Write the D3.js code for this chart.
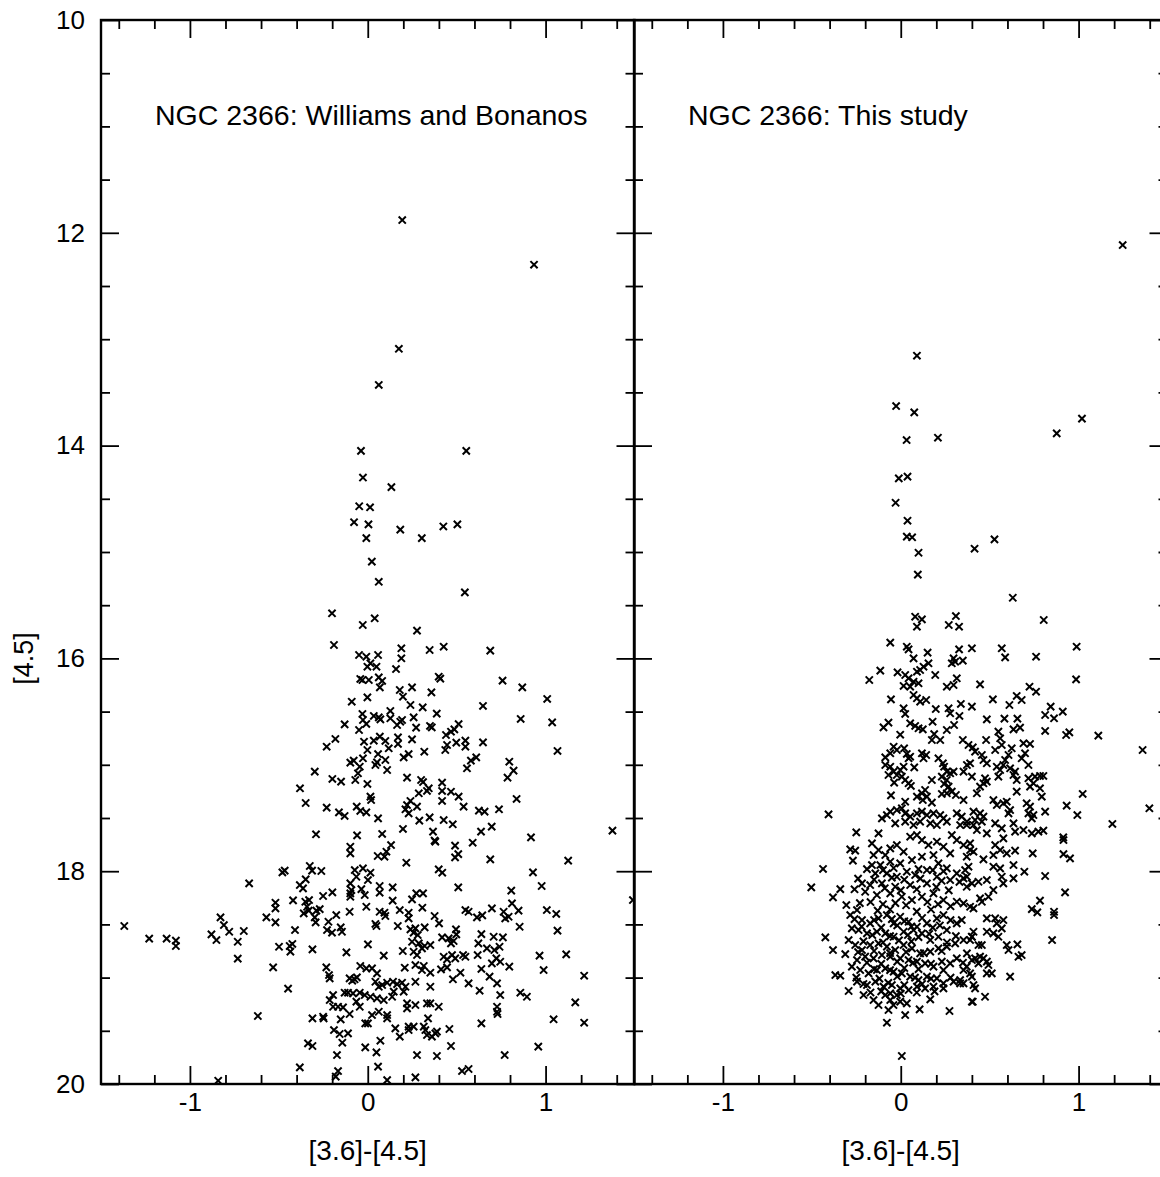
<!DOCTYPE html>
<html>
<head>
<meta charset="utf-8">
<title>NGC 2366 CMD</title>
<script src="https://cdn.jsdelivr.net/npm/d3@7"></script>
<style>
  body { margin: 0; background: #fff; }
  text { font-family: "Liberation Sans", Arial, sans-serif; fill: #000; }
</style>
</head>
<body>
<script>
const panelTitles = ["NGC 2366: Williams and Bonanos", "NGC 2366: This study"];
const xTickLabels = [-1, 0, 1];
const yTickLabels = [10, 12, 14, 16, 18, 20];
const xTitle = "[3.6]-[4.5]";
const yTitle = "[4.5]";

// [colour [3.6]-[4.5], magnitude [4.5]]
const wbStars = [
  [0.194,11.88],[0.935,12.30],[0.175,13.09],[0.062,13.43],[-0.038,14.05],[0.554,14.05],[-0.027,14.30],[0.133,14.39],[-0.048,14.57],[0.013,14.58],
  [-0.077,14.72],[0.004,14.74],[0.183,14.79],[0.304,14.87],[0.425,14.76],[0.504,14.74],[-0.008,14.87],[0.023,15.09],[0.062,15.28],[0.546,15.38],
  [-0.201,15.576],[-0.028,15.686],[-0.190,15.874],[-0.049,15.968],[-0.008,15.984],[-0.002,16.078],[-0.042,16.193],[-0.030,16.203],[-0.002,16.366],[-0.090,16.407],
  [-0.030,16.522],[-0.027,16.579],[-0.008,16.616],[-0.130,16.620],[-0.049,16.673],[-0.182,16.757],[-0.231,16.830],[-0.021,16.783],[-0.002,16.861],[-0.027,16.939],
  [-0.098,16.980],[-0.079,16.961],[-0.045,17.018],[-0.055,17.080],[-0.298,17.064],[-0.070,17.143],[-0.199,17.133],[-0.150,17.158],[-0.002,17.180],[-0.381,17.221],
  [-0.349,17.359],[-0.231,17.403],[-0.162,17.447],[-0.130,17.481],[-0.062,17.393],[-0.042,17.434],[-0.008,17.447],[-0.291,17.653],[-0.060,17.663],
  [0.039,15.623],[0.277,15.739],[0.058,15.968],[0.015,16.046],[0.049,16.078],[0.189,15.905],[0.189,15.999],[0.348,15.921],[0.427,15.890],[0.689,15.927],
  [0.159,16.100],[0.006,16.203],[0.062,16.178],[0.081,16.212],[0.068,16.272],[0.399,16.172],[0.408,16.190],[0.249,16.272],[0.180,16.297],[0.198,16.360],
  [0.358,16.319],[0.758,16.209],[0.869,16.272],[1.009,16.381],[0.240,16.438],[0.309,16.460],[0.648,16.447],[0.127,16.494],[0.388,16.519],[0.034,16.541],
  [0.062,16.554],[0.071,16.573],[0.127,16.563],[0.165,16.626],[0.183,16.595],[0.193,16.579],[0.258,16.554],[0.272,16.651],[0.350,16.635],[0.360,16.648],
  [0.860,16.569],[1.037,16.601],[0.440,16.720],[0.468,16.689],[0.487,16.667],[0.511,16.617],[0.446,16.814],[0.436,16.861],[0.498,16.792],[0.549,16.773],
  [0.549,16.830],[0.648,16.789],[1.067,16.870],[0.068,16.735],[0.034,16.773],[0.099,16.776],[0.170,16.742],[0.170,16.804],[0.249,16.761],[0.118,16.845],
  [0.058,16.899],[0.099,16.955],[0.109,17.049],[0.043,17.002],[0.052,16.977],[0.202,16.930],[0.230,16.899],[0.318,16.877],[0.558,17.033],[0.580,16.961],
  [0.610,16.930],[0.796,16.971],[0.820,17.055],[0.786,17.121],[0.837,17.321],[0.221,17.121],[0.300,17.143],[0.311,17.162],[0.287,17.268],[0.333,17.246],
  [0.343,17.221],[0.418,17.168],[0.418,17.246],[0.418,17.340],[0.468,17.253],[0.511,17.299],[0.539,17.393],[0.015,17.299],[0.019,17.331],[0.240,17.340],
  [0.221,17.378],[0.212,17.418],[0.277,17.393],[0.230,17.456],[0.058,17.503],[0.290,17.525],[0.348,17.494],[0.427,17.519],[0.478,17.559],[0.625,17.431],
  [0.657,17.440],[0.738,17.418],[0.198,17.603],[0.081,17.650],[0.367,17.628],[0.376,17.713],[0.637,17.628],[0.697,17.581],[0.918,17.682],[1.376,17.619],
  [-0.098,17.770],[-0.098,17.832],[-0.667,18.114],[-1.369,18.515],[-1.229,18.634],[-1.131,18.634],[-1.079,18.653],[-1.079,18.703],[-0.879,18.594],[-0.851,18.647],
  [-0.828,18.434],[-0.809,18.506],[-0.779,18.569],[-0.731,18.663],[-0.697,18.562],[-0.731,18.822],[-0.618,19.361],[-0.570,18.434],[-0.519,18.296],[-0.519,18.349],
  [-0.519,18.481],[-0.532,18.904],[-0.480,18.011],[-0.467,17.995],[-0.499,18.710],[-0.439,18.703],[-0.435,18.756],[-0.424,18.684],[-0.409,18.553],[-0.420,18.274],
  [-0.448,19.104],[-0.382,18.130],[-0.364,18.161],[-0.349,18.077],[-0.326,17.951],[-0.313,17.995],[-0.261,17.998],[-0.351,18.287],[-0.330,18.271],[-0.341,18.334],
  [-0.360,18.396],[-0.332,18.371],[-0.289,18.371],[-0.270,18.356],[-0.298,18.434],[-0.293,18.481],[-0.311,18.735],[-0.251,18.233],[-0.199,18.199],[-0.221,18.475],
  [-0.229,18.553],[-0.201,18.578],[-0.177,18.412],[-0.152,18.528],[-0.145,18.569],[-0.120,18.763],[-0.102,18.381],[-0.098,18.114],[-0.098,18.208],[-0.098,18.240],
  [-0.092,18.177],[-0.073,17.989],[-0.064,18.052],[-0.027,17.973],[-0.036,18.168],[-0.017,18.224],[-0.008,18.334],[0.001,18.083],[0.001,18.688],[-0.233,18.904],
  [-0.218,18.976],[-0.214,19.007],[-0.102,19.007],[-0.087,19.029],[-0.074,19.016],[-0.061,18.998],[-0.042,18.891],[-0.008,18.913],[-0.130,19.142],[-0.111,19.142],
  [-0.083,19.148],[-0.045,19.142],[-0.017,19.164],[-0.195,19.164],[-0.214,19.211],[-0.195,19.274],[-0.167,19.274],[-0.139,19.280],[-0.064,19.226],[-0.045,19.274],
  [-0.102,19.342],[-0.311,19.383],[-0.251,19.368],[-0.248,19.383],[-0.152,19.393],[-0.014,19.430],[0.001,19.430],[-0.190,19.493],[-0.158,19.530],[-0.111,19.524],
  [-0.143,19.612],[-0.336,19.618],[-0.311,19.643],[-0.173,19.728],[-0.014,19.656],[-0.382,19.844],[-0.167,19.878],[-0.180,19.931],[-0.841,19.969],
  [0.131,17.754],[0.105,17.817],[0.094,17.864],[0.056,17.857],[0.380,17.723],[0.491,17.760],[0.509,17.839],[0.491,17.870],[0.590,17.732],[0.217,17.920],
  [0.689,17.889],[1.127,17.901],[0.399,17.983],[0.419,18.014],[0.015,18.014],[0.929,18.011],[0.978,18.139],[0.067,18.139],[0.067,18.202],[0.140,18.152],
  [0.509,18.152],[0.807,18.183],[0.140,18.277],[0.249,18.265],[0.273,18.208],[0.311,18.208],[0.307,18.343],[0.180,18.365],[0.230,18.390],[0.230,18.443],
  [0.067,18.381],[0.094,18.390],[0.099,18.421],[0.043,18.496],[0.049,18.515],[0.169,18.515],[0.090,18.794],[0.240,18.547],[0.258,18.578],[0.281,18.600],
  [0.268,18.537],[0.320,18.528],[0.249,18.663],[0.287,18.678],[0.305,18.725],[0.320,18.703],[0.352,18.694],[0.197,18.750],[0.258,18.757],[0.277,18.788],
  [0.376,18.421],[0.401,18.490],[0.418,18.622],[0.455,18.631],[0.468,18.678],[0.483,18.656],[0.496,18.547],[0.498,18.594],[0.549,18.365],[0.567,18.381],
  [0.614,18.434],[0.644,18.415],[0.698,18.349],[0.764,18.381],[0.773,18.443],[0.792,18.428],[0.811,18.302],[0.848,18.371],[0.854,18.522],[1.007,18.365],
  [1.060,18.402],[1.067,18.559],[0.639,18.591],[0.622,18.678],[0.618,18.788],[0.708,18.616],[0.760,18.622],[0.741,18.710],[0.712,18.741],[0.670,18.725],
  [0.698,18.866],[0.723,18.819],[0.745,18.851],[0.796,18.897],[0.966,18.794],[1.116,18.782],[0.989,18.929],[1.217,18.982],[0.427,18.804],[0.446,18.829],
  [0.474,18.788],[0.492,18.819],[0.536,18.788],[0.549,18.804],[0.412,18.923],[0.446,18.904],[0.479,19.016],[0.521,18.954],[0.208,18.907],[0.268,18.882],
  [0.315,18.891],[0.305,18.929],[0.352,18.954],[0.268,19.039],[0.352,19.086],[0.567,19.054],[0.639,18.919],[0.685,18.991],[0.727,19.054],[0.629,19.123],
  [0.745,19.164],[0.858,19.142],[0.895,19.180],[1.167,19.233],[0.024,18.913],[0.052,18.960],[0.043,19.039],[0.062,19.086],[0.081,19.070],[0.109,19.048],
  [0.142,19.039],[0.165,19.061],[0.193,19.048],[0.212,19.086],[0.202,19.132],[0.015,19.180],[0.052,19.195],[0.090,19.211],[0.137,19.180],[0.146,19.132],
  [0.221,19.242],[0.221,19.289],[0.268,19.258],[0.333,19.242],[0.352,19.242],[0.399,19.274],[0.727,19.274],[0.727,19.321],[0.730,19.342],[0.062,19.321],
  [0.024,19.352],[0.109,19.352],[0.109,19.383],[0.339,19.383],[0.155,19.477],[0.180,19.555],[0.230,19.461],[0.230,19.493],[0.258,19.461],[0.315,19.461],
  [0.324,19.493],[0.333,19.540],[0.361,19.555],[0.380,19.524],[0.389,19.508],[0.459,19.483],[0.639,19.430],[1.045,19.392],[1.217,19.424],[0.071,19.593],
  [0.049,19.703],[0.277,19.728],[0.389,19.737],[0.468,19.643],[0.770,19.728],[0.959,19.649],[0.058,19.837],[0.530,19.878],[0.567,19.859],[0.109,19.963],
  [0.268,19.938],[1.491,18.271]
];

const tsStars = [
  [1.248,12.115],[0.091,13.155],[-0.026,13.628],[0.076,13.688],[0.033,13.948],[0.209,13.926],[0.877,13.885],[1.019,13.747],[-0.011,14.308],[0.038,14.292],
  [-0.029,14.537],[0.038,14.706],[0.034,14.856],[0.064,14.862],[0.100,15.007],[0.415,14.969],[0.527,14.881],[0.096,15.213],[0.630,15.430],[0.081,15.608],
  [0.119,15.633],[0.091,15.702],[0.310,15.602],[0.270,15.686],[0.328,15.702],[0.804,15.639],
  [-0.059,15.852],[0.034,15.890],[0.044,15.915],[0.072,16.000],[0.151,15.946],[0.328,15.915],[0.297,16.000],[0.306,16.031],[0.287,16.046],[0.349,16.021],
  [0.400,15.905],[0.156,16.046],[0.128,16.078],[0.109,16.109],[0.091,16.125],[0.194,16.156],[-0.115,16.115],[-0.177,16.203],[-0.018,16.131],[0.025,16.156],
  [0.044,16.187],[0.072,16.219],[0.100,16.234],[0.016,16.259],[0.053,16.266],[0.259,16.266],[0.297,16.250],[0.315,16.187],[-0.055,16.385],[0.072,16.344],
  [0.091,16.375],[0.109,16.407],[0.143,16.391],[0.016,16.469],[0.025,16.522],[0.197,16.476],[0.269,16.469],[0.278,16.516],[0.330,16.541],[0.338,16.428],
  [0.400,16.453],[-0.069,16.604],[-0.097,16.648],[-0.003,16.717],[0.053,16.610],[0.081,16.635],[0.100,16.657],[0.124,16.667],[0.179,16.595],[0.259,16.673],
  [0.300,16.626],[0.188,16.711],[0.175,16.767],[0.222,16.767],[0.349,16.767],[0.381,16.814],[0.405,16.836],[-0.040,16.830],[-0.022,16.861],[-0.059,16.892],
  [-0.087,16.930],[0.019,16.845],[0.034,16.898],[0.053,16.924],[0.044,16.939],[0.119,16.892],[0.143,16.908],[0.128,16.939],[-0.087,17.002],[-0.059,17.018],
  [-0.040,17.064],[-0.069,17.096],[-0.003,17.049],[0.016,17.018],[0.076,17.024],[-0.022,17.096],[0.006,17.111],[0.025,17.143],[0.044,17.174],[0.057,17.199],
  [-0.037,17.168],[0.175,17.143],[0.212,16.939],[0.237,16.986],[0.244,17.018],[0.259,17.064],[0.278,17.080],[0.297,17.064],[0.231,17.111],[0.259,17.143],
  [0.244,17.180],[0.269,17.205],[0.287,17.252],[0.259,17.268],[0.231,17.274],[0.353,17.064],[0.372,17.002],[0.390,16.986],[0.400,17.111],[0.310,17.284],
  [0.353,17.331],[-0.055,17.287],[0.025,17.347],[0.091,17.299],[0.119,17.268],[0.137,17.237],[0.147,17.299],[0.175,17.356],[0.124,17.331],[-0.406,17.466],
  [-0.059,17.440],[-0.078,17.472],[-0.106,17.503],[-0.022,17.425],[0.006,17.409],[0.025,17.456],[0.053,17.487],[0.091,17.456],[0.119,17.440],[0.147,17.472],
  [0.184,17.456],[0.222,17.472],[0.240,17.503],[-0.031,17.550],[0.025,17.534],[0.072,17.566],[0.109,17.534],[0.166,17.550],[0.203,17.566],[0.259,17.534],
  [0.315,17.456],[0.343,17.487],[0.372,17.534],[0.334,17.566],[-0.250,17.635],[-0.125,17.644],
  [0.568,15.905],[0.587,15.990],[0.761,15.984],[0.989,15.890],[0.986,16.197],[0.446,16.244],[0.724,16.266],[0.761,16.313],[0.652,16.353],[0.680,16.391],
  [0.611,16.438],[0.518,16.385],[0.484,16.573],[0.583,16.566],[0.656,16.566],[0.634,16.667],[0.671,16.651],[0.812,16.532],[0.843,16.453],[0.862,16.563],
  [0.911,16.500],[0.812,16.682],[0.930,16.720],[0.948,16.695],[1.111,16.726],[1.360,16.861],[0.418,16.876],[0.480,16.767],[0.531,16.861],[0.549,16.688],
  [0.559,16.751],[0.568,16.814],[0.456,16.908],[0.465,16.955],[0.484,16.986],[0.624,16.845],[0.606,16.908],[0.587,16.955],[0.690,16.798],[0.727,16.804],
  [0.699,16.892],[0.680,16.939],[0.718,17.002],[0.540,17.018],[0.559,17.049],[0.577,17.002],[0.549,17.111],[0.615,17.033],[0.643,17.064],[0.634,17.096],
  [0.474,17.127],[0.465,17.174],[0.446,17.205],[0.484,17.158],[0.428,17.268],[0.652,17.143],[0.652,17.252],[0.718,17.127],[0.755,17.111],[0.783,17.105],
  [0.802,17.105],[0.727,17.205],[0.746,17.174],[0.783,17.221],[0.793,17.299],[1.023,17.274],[0.933,17.384],[0.993,17.472],[1.190,17.556],[1.398,17.409],
  [0.521,17.331],[0.540,17.378],[0.577,17.362],[0.596,17.347],[0.615,17.425],[0.606,17.456],[0.708,17.362],[0.727,17.393],[0.718,17.456],[0.746,17.472],
  [0.737,17.503],[0.812,17.440],[0.409,17.440],[0.418,17.519],[0.446,17.456],[0.465,17.487],[0.456,17.534],[0.371,17.566],[0.409,17.566],[0.428,17.613],
  [0.484,17.644],[0.531,17.550],[0.568,17.597],[0.634,17.550],[0.643,17.628],[0.690,17.613],[0.737,17.644],[0.774,17.628],[0.802,17.619],[0.914,17.682],
  [-0.284,17.795],[-0.256,17.807],[-0.269,17.901],[-0.437,17.979],[-0.503,18.152],[-0.340,18.168],[-0.381,18.246],[-0.306,18.318],[-0.424,18.622],[-0.381,18.741],
  [-0.312,18.779],[-0.368,18.976],[-0.340,18.982],[-0.293,19.126],[-0.209,19.164],[-0.153,19.211],[-0.125,19.258],[-0.078,19.424],[0.025,19.352],[0.106,19.299],
  [0.166,19.205],[0.274,19.314],[0.006,19.737],[0.400,19.226],[-0.069,19.305],[-0.041,19.258],[-0.059,19.211],[-0.003,19.226],[0.034,19.242],[-0.087,19.164],
  [-0.059,19.148],[-0.022,19.164],
  [-0.162,17.738],[-0.125,17.801],[-0.153,17.848],[-0.087,17.848],[-0.059,17.785],[-0.022,17.754],[0.016,17.817],[0.053,17.676],[0.091,17.660],[0.119,17.707],
  [0.156,17.754],[0.203,17.723],[0.240,17.770],[0.287,17.660],[0.315,17.707],[0.353,17.754],[0.390,17.801],[0.278,17.832],[0.184,17.848],[0.119,17.864],
  [0.063,17.895],[-0.003,17.926],[-0.059,17.911],[-0.115,17.942],[-0.162,17.942],[-0.143,18.020],[-0.078,18.020],[-0.022,18.052],[0.034,18.005],[0.081,18.036],
  [0.147,17.989],[0.212,17.926],[0.259,17.973],[0.315,18.020],[0.372,18.052],[0.278,18.083],[0.203,18.052],[0.147,18.114],[0.053,18.130],[-0.031,18.146],
  [-0.106,18.114],[-0.172,18.130],[-0.218,18.114],[-0.200,18.193],[-0.134,18.224],[-0.059,18.208],[0.006,18.240],[0.063,18.271],[0.119,18.240],[0.184,18.208],
  [0.240,18.271],[0.315,18.287],[0.390,18.334],[0.343,18.459],[0.315,18.490],
  [-0.284,18.412],[-0.246,18.365],[-0.218,18.459],[-0.172,18.490],[-0.125,18.443],[-0.078,18.412],[-0.040,18.490],[-0.003,18.428],[0.044,18.475],[0.091,18.522],
  [0.147,18.490],[0.203,18.443],[0.240,18.412],[0.259,18.553],[0.212,18.616],[0.166,18.647],[0.119,18.584],[0.072,18.553],[0.016,18.569],[-0.040,18.616],
  [-0.087,18.584],[-0.134,18.569],[-0.190,18.584],[-0.237,18.553],[-0.275,18.537],[-0.293,18.647],[-0.256,18.694],[-0.218,18.741],[-0.172,18.694],[-0.125,18.678],
  [-0.078,18.709],[-0.031,18.741],[0.016,18.694],[0.063,18.725],[0.109,18.772],[0.166,18.756],[0.212,18.725],[0.259,18.709],[0.306,18.678],[0.353,18.647],
  [0.400,18.616],[0.372,18.772],[0.315,18.819],[0.278,18.866],[0.231,18.850],[0.184,18.897],[0.137,18.866],[0.091,18.850],[0.044,18.835],[-0.003,18.819],
  [-0.059,18.803],[-0.106,18.788],[-0.153,18.819],[-0.200,18.803],[-0.246,18.835],[-0.275,18.897],[-0.228,18.929],[-0.181,18.960],[-0.134,18.929],[-0.087,18.913],
  [-0.040,18.944],[0.006,18.960],[0.053,18.991],[0.100,19.023],[0.147,18.991],[0.203,19.007],[0.240,19.054],[0.297,19.038],[0.334,19.023],[0.390,18.960],
  [0.400,18.835],[-0.246,19.038],[-0.190,19.070],[-0.143,19.038],[-0.097,19.085],[-0.050,19.070],[-0.003,19.101],[0.044,19.117],[0.091,19.085],[0.137,19.101],
  [0.184,19.085],[0.240,19.101],[0.334,19.054],[0.353,18.929],
  [0.915,17.707],[0.915,17.839],[0.952,17.879],[0.742,17.832],[0.812,18.045],[0.695,18.005],[0.924,18.199],[0.783,18.277],[0.737,18.356],[0.768,18.387],
  [0.862,18.381],[0.862,18.412],[0.851,18.647],[0.615,18.991],[0.656,18.688],[0.680,18.788],[0.662,18.804],[0.596,18.694],[0.606,18.741],[0.474,19.180],
  [0.405,19.227],[0.577,17.691],[0.531,17.754],[0.559,17.801],[0.596,17.832],[0.643,17.807],[0.521,17.848],[0.465,17.889],[0.409,17.817],[0.371,17.864],
  [0.390,17.738],[0.381,17.958],[0.362,17.989],[0.353,18.067],[0.371,18.146],[0.400,18.114],[0.437,18.099],[0.484,18.083],[0.521,17.958],[0.559,17.973],
  [0.568,18.052],[0.634,17.942],[0.634,18.067],[0.577,18.114],[0.521,18.177],[0.493,18.240],[0.446,18.255],[0.456,18.287],[0.409,18.349],[0.353,18.302],
  [0.484,18.443],[0.531,18.443],[0.540,18.490],[0.577,18.459],[0.568,18.537],[0.484,18.569],[0.521,18.584],[0.549,18.616],[0.409,18.569],[0.400,18.616],
  [0.390,18.647],[0.437,18.694],[0.456,18.694],[0.418,18.819],[0.446,18.803],[0.465,18.819],[0.437,18.866],[0.484,18.850],[0.493,18.882],[0.484,18.960],
  [0.512,18.960],[0.371,18.897],[0.400,18.991],[0.409,19.070],[0.418,19.101],[0.353,19.054],
  // dense core, overlapping crosses
  [-0.19,17.98],[-0.10,17.99],[-0.04,17.97],[0.10,17.98],[0.18,17.99],[0.24,18.00],
  [-0.24,18.07],[-0.15,18.08],[-0.05,18.06],[0.02,18.08],[0.11,18.07],[0.23,18.09],[0.33,18.10],
  [-0.26,18.17],[-0.09,18.16],[0.00,18.18],[0.09,18.17],[0.20,18.15],[0.27,18.18],
  [-0.23,18.30],[-0.17,18.29],[-0.10,18.31],[-0.03,18.30],[0.03,18.32],[0.15,18.29],[0.21,18.31],[0.28,18.33],
  [-0.13,18.37],[-0.06,18.36],[0.09,18.38],[0.17,18.36],
  [-0.26,18.45],[-0.15,18.46],[-0.05,18.45],[0.02,18.47],[0.12,18.44],[0.28,18.46],
  [-0.22,18.52],[-0.11,18.53],[-0.02,18.51],[0.06,18.52],[0.18,18.53],[0.22,18.51],
  [-0.16,18.60],[-0.06,18.61],[0.04,18.60],[0.10,18.62],[0.16,18.59],[0.31,18.61],
  [-0.21,18.66],[-0.10,18.67],[-0.01,18.65],[0.06,18.66],[0.26,18.67],
  [-0.24,18.76],[-0.15,18.75],[-0.06,18.77],[0.03,18.76],[0.13,18.77],[0.23,18.75],
  [-0.19,18.86],[-0.11,18.87],[-0.02,18.85],[0.07,18.86],[0.17,18.87],[0.35,18.86],
  [-0.15,18.92],[-0.06,18.93],[0.02,18.91],[0.10,18.92],[0.24,18.93],
  [-0.25,19.00],[-0.12,19.01],[-0.02,18.99],[0.08,19.00],[0.17,19.01],[0.28,19.00],
  [-0.21,19.06],[-0.07,19.05],[0.02,19.07],[0.12,19.06],
  [-0.17,19.14],[-0.11,19.13],[0.00,19.15],[0.09,19.14],[0.19,19.13]
];

const width = 1160, height = 1177;
const plotTop = 20, plotBottom = 1084, panelWidth = 533.5;
const panels = [
  { left: 101, stars: wbStars, title: panelTitles[0], showY: true },
  { left: 634, stars: tsStars, title: panelTitles[1], showY: false }
];

const svg = d3.select("body").append("svg")
  .attr("width", width).attr("height", height);

const yScale = d3.scaleLinear().domain([10, 20]).range([plotTop, plotBottom]);
const yMinor = d3.range(10.5, 20, 0.5).filter(v => v % 2 !== 0);
const xMinor = d3.range(-14, 15, 2).map(v => v / 10).filter(v => !Number.isInteger(v));
const fmt = d => String(d);

function styleAxis(g) {
  g.select(".domain").remove();
  g.selectAll(".tick line").attr("stroke", "#000").attr("stroke-width", 1.8);
  g.selectAll(".tick text").attr("font-size", 26).attr("fill", "#000")
    .attr("font-family", "Liberation Sans, Arial, sans-serif");
}

panels.forEach((p, i) => {
  const xScale = d3.scaleLinear().domain([-1.5, 1.5]).range([p.left, p.left + panelWidth]);
  const g = svg.append("g");

  g.append("clipPath").attr("id", "clip" + i)
    .append("rect").attr("x", p.left).attr("y", plotTop)
    .attr("width", panelWidth).attr("height", plotBottom - plotTop);

  // stars as small crosses
  const s = 3.6;
  g.append("g").attr("clip-path", `url(#clip${i})`)
    .selectAll("path").data(p.stars).enter().append("path")
    .attr("d", d => {
      const cx = xScale(d[0]), cy = yScale(d[1]);
      return `M${cx - s},${cy - s}L${cx + s},${cy + s}M${cx - s},${cy + s}L${cx + s},${cy - s}`;
    })
    .attr("stroke", "#000").attr("stroke-width", 2).attr("fill", "none");

  // x axes (bottom with labels, top ticks only)
  g.append("g").attr("transform", `translate(0,${plotBottom})`)
    .call(d3.axisBottom(xScale).tickValues(xTickLabels).tickSize(-18).tickPadding(9).tickFormat(fmt))
    .call(styleAxis);
  g.append("g").attr("transform", `translate(0,${plotBottom})`)
    .call(d3.axisBottom(xScale).tickValues(xMinor).tickSize(-9).tickFormat(""))
    .call(styleAxis);
  g.append("g").attr("transform", `translate(0,${plotTop})`)
    .call(d3.axisTop(xScale).tickValues(xTickLabels).tickSize(-18).tickFormat(""))
    .call(styleAxis);
  g.append("g").attr("transform", `translate(0,${plotTop})`)
    .call(d3.axisTop(xScale).tickValues(xMinor).tickSize(-9).tickFormat(""))
    .call(styleAxis);

  // y axes, left and right of each panel
  g.append("g").attr("transform", `translate(${p.left},0)`)
    .call(d3.axisLeft(yScale).tickValues(yTickLabels).tickSize(-18).tickPadding(16)
      .tickFormat(p.showY ? fmt : ""))
    .call(styleAxis);
  g.append("g").attr("transform", `translate(${p.left},0)`)
    .call(d3.axisLeft(yScale).tickValues(yMinor).tickSize(-9).tickFormat(""))
    .call(styleAxis);
  g.append("g").attr("transform", `translate(${p.left + panelWidth},0)`)
    .call(d3.axisRight(yScale).tickValues(yTickLabels).tickSize(-18).tickFormat(""))
    .call(styleAxis);
  g.append("g").attr("transform", `translate(${p.left + panelWidth},0)`)
    .call(d3.axisRight(yScale).tickValues(yMinor).tickSize(-9).tickFormat(""))
    .call(styleAxis);

  // frame
  g.append("rect").attr("x", p.left).attr("y", plotTop)
    .attr("width", panelWidth).attr("height", plotBottom - plotTop)
    .attr("fill", "none").attr("stroke", "#000").attr("stroke-width", 2.4);

  // panel title
  g.append("text").attr("x", p.left + 54).attr("y", 125)
    .attr("font-size", 28.5).text(p.title);

  // x title
  g.append("text").attr("x", xScale(0)).attr("y", 1160)
    .attr("text-anchor", "middle").attr("font-size", 28).text(xTitle);
});

svg.append("text")
  .attr("transform", `translate(33,${yScale(16)}) rotate(-90)`)
  .attr("text-anchor", "middle").attr("font-size", 27).text(yTitle);
</script>
</body>
</html>
